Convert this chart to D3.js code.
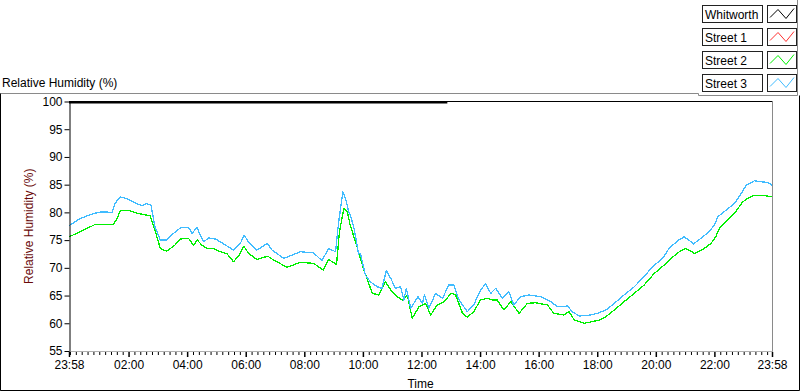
<!DOCTYPE html>
<html><head><meta charset="utf-8">
<script src="https://cdn.jsdelivr.net/npm/d3@7"></script>
<style>
html,body{margin:0;padding:0;background:#fff;}
svg{display:block;font-family:"Liberation Sans",Arial,sans-serif;}
</style></head>
<body>
<svg id="c" width="800" height="392"></svg>
<script>
// ---- data (minutes since the 23:58 start) ----
const seriesNames = ["Whitworth", "Street 1", "Street 2", "Street 3"];
const seriesColors = ["#000000", "#ff3030", "#00f000", "#40bcff"];

const whitworthMin = [0, 775];
const whitworthVal = [100, 100];

const street1Min = [];
const street1Val = [];

const street2Min = [0,23,53,91,99,105,125,142,166,176,187,200,217,228,245,255,263,272,283,296,310,324,337,349,358,368,385,407,419,447,474,501,521,532,548,554,563,570,576,590,604,614,621,635,648,659,672,683,693,703,717,730,741,754,768,783,792,806,816,829,843,857,867,877,891,905,922,939,956,980,993,1014,1024,1035,1055,1072,1088,1100,1117,1137,1158,1178,1199,1219,1236,1250,1262,1270,1281,1298,1315,1325,1332,1349,1363,1380,1390,1404,1421,1440];
const street2Val = [75.6,76.5,77.8,77.8,79.0,80.3,80.3,79.8,79.4,76.8,73.5,73.0,74.1,75.2,75.3,74.1,75.0,74.1,73.5,73.5,72.9,72.5,71.1,72.3,73.9,72.6,71.5,72.1,71.4,70.1,71.0,70.8,69.6,71.5,70.6,76.5,80.7,80.1,77.7,73.8,69.6,67.2,65.4,65.1,67.5,66.0,64.8,64.2,65.1,60.9,63.0,63.6,61.5,63.3,63.9,65.4,65.1,61.8,61.1,62.1,64.2,64.5,64.2,64.2,62.4,63.9,61.8,63.6,63.7,63.3,61.8,61.5,62.1,60.6,60.0,60.3,60.6,61.2,62.4,63.9,65.4,66.9,69.0,70.5,71.9,72.9,73.5,73.2,72.6,73.3,74.4,75.6,77.1,78.6,79.8,81.9,82.5,83.1,83.1,82.8];

const street3Min = [0,23,50,67,88,94,105,118,139,149,159,168,176,187,200,214,228,245,252,262,269,276,286,300,317,337,351,359,368,385,406,416,440,474,501,518,532,546,552,561,567,573,576,583,587,593,597,607,617,631,641,650,659,669,679,686,691,700,715,724,728,737,751,765,778,788,799,816,829,843,853,864,874,888,901,911,925,942,966,987,1000,1021,1031,1045,1069,1086,1100,1117,1137,1158,1178,1195,1216,1229,1247,1260,1270,1279,1294,1311,1322,1329,1346,1363,1377,1387,1404,1421,1431,1440];
const street3Val = [77.6,78.9,79.8,80.1,80.0,81.6,82.8,82.5,81.6,81.2,81.6,81.3,77.4,75.0,75.0,76.2,77.2,77.3,76.2,77.3,75.9,74.7,75.4,75.2,74.3,73.2,74.4,75.9,74.6,73.2,74.4,73.2,71.7,72.9,72.7,71.3,73.5,72.9,78.0,83.7,82.3,80.1,79.5,77.5,75.6,72.5,72.6,68.7,67.5,66.6,66.3,69.5,68.1,66.3,66.6,64.2,66.3,62.7,64.8,63.6,65.1,62.7,65.4,64.5,66.9,66.9,64.2,62.1,63.3,66.0,67.1,65.4,66.3,64.5,65.7,63.3,64.8,65.1,64.8,63.9,63.0,63.1,62.1,61.3,61.5,61.9,62.4,63.6,65.1,66.6,68.4,70.2,71.7,73.5,74.9,75.6,75.0,74.3,75.3,76.5,77.7,79.2,80.4,81.6,83.4,84.9,85.7,85.5,85.4,84.9];

const xTickLabels = ["23:58","02:00","04:00","06:00","08:00","10:00","12:00","14:00","16:00","18:00","20:00","22:00","23:58"];
const yTickValues = [55,60,65,70,75,80,85,90,95,100];

// ---- layout ----
const svg = d3.select("#c");
const L = 69, R = 772, T = 101.5, B = 351;
const start = new Date(2000,0,1,23,58);
const toDate = m => new Date(start.getTime() + m*60000);
const x = d3.scaleTime().domain([toDate(0), toDate(1440)]).range([L, R]);
const y = d3.scaleLinear().domain([55,100]).range([B, T]);

// outer frame
svg.append("path").attr("d","M0.5,391 V93.5 H698.5 V95.5 H797.5 V0")
  .attr("fill","none").attr("stroke","#8a8a8a");
svg.append("path").attr("d","M0.5,93.5 V390.5 H799.5 V95.5")
  .attr("fill","none").attr("stroke","#000");

// title
svg.append("text").attr("x",2).attr("y",87).attr("font-size",12).attr("fill","#000").text("Relative Humidity (%)");

// plot border
svg.append("line").attr("x1",L).attr("x2",R+0.5).attr("y1",101.5).attr("y2",101.5).attr("stroke","#000");
svg.append("line").attr("x1",R+0.5).attr("x2",R+0.5).attr("y1",101.5).attr("y2",B+1).attr("stroke","#8a8a8a");
svg.append("line").attr("x1",L).attr("x2",R+0.5).attr("y1",B+0.5).attr("y2",B+0.5).attr("stroke","#b0b0b0");

// clip
svg.append("clipPath").attr("id","clip").append("rect").attr("x",L).attr("y",T-1.5).attr("width",R-L).attr("height",B-T+2);

const line = d3.line().x(d=>x(toDate(d[0]))).y(d=>y(d[1]));
const series = [
  [whitworthMin, whitworthVal],
  [street1Min, street1Val],
  [street2Min, street2Val],
  [street3Min, street3Val]
];
const g = svg.append("g").attr("clip-path","url(#clip)");
series.forEach((s,i)=>{
  const pts = s[0].map((m,j)=>[m, s[1][j]]);
  if(!pts.length) return;
  g.append("path").attr("d", line(pts)).attr("fill","none")
   .attr("stroke", seriesColors[i]).attr("stroke-width", i===0?2.5:1.3)
   .attr("transform", i===0?"translate(0,0.8)":null)
   .attr("shape-rendering", i===0?null:"crispEdges")
   .attr("stroke-linejoin","round");
});

// y axis
const ya = svg.append("g").attr("transform",`translate(${L+0.5},0)`)
  .call(d3.axisLeft(y).tickValues(yTickValues).tickSize(5).tickPadding(2).tickSizeOuter(0));
ya.select(".domain").attr("stroke","#000");
ya.selectAll("text").attr("font-size",12).attr("font-family","Liberation Sans, Arial, sans-serif").attr("fill","#000");
ya.selectAll("line").attr("stroke","#000");

// x axis
const parseOff = (s,i) => {
  if(i===xTickLabels.length-1) return 1440;
  const [h,mm] = s.split(":").map(Number);
  return ((h*60+mm) - (23*60+58) + 1440) % 1440;
};
const xTickMin = xTickLabels.map(parseOff);
const minor = [];
for(let m=2; m<1440; m+=12){ if(!xTickMin.includes(m)) minor.push(m); }
const xm = svg.append("g").attr("transform",`translate(0,${B+1})`)
  .call(d3.axisBottom(x).tickValues(minor.map(toDate)).tickSize(3).tickFormat(""));
xm.select(".domain").remove();
xm.selectAll("line").attr("stroke","#000");
const xa = svg.append("g").attr("transform",`translate(0,${B+1})`)
  .call(d3.axisBottom(x).tickValues(xTickMin.map(toDate)).tickSize(5).tickPadding(3)
    .tickFormat((d,i)=>xTickLabels[i]));
xa.select(".domain").remove();
xa.selectAll("line").attr("stroke","#000").attr("stroke-width",1.5);
xa.selectAll("text").attr("font-size",12).attr("font-family","Liberation Sans, Arial, sans-serif").attr("fill","#000");

// axis titles
svg.append("text").attr("x",(L+R)/2).attr("y",388).attr("text-anchor","middle").attr("font-size",12).attr("fill","#000").text("Time");
svg.append("text").attr("transform",`translate(33,${(T+B)/2}) rotate(-90)`).attr("text-anchor","middle")
  .attr("font-size",12).attr("fill","#6a0a0a").text("Relative Humidity (%)");

// legend
const lg = svg.append("g");
seriesNames.forEach((n,i)=>{
  const yy = 4.5 + i*23.3;
  const row = lg.append("g").attr("transform",`translate(0,${Math.round(yy)+0.5})`);
  row.append("rect").attr("x",702.5).attr("y",0).attr("width",60).attr("height",17).attr("fill","#fff").attr("stroke","#222");
  row.append("text").attr("x",705).attr("y",13).attr("font-size",12).attr("fill","#000").text(n);
  row.append("rect").attr("x",767.5).attr("y",0).attr("width",29).attr("height",17).attr("fill","#fff").attr("stroke","#222");
  row.append("polyline").attr("points","770,12 778,4 786,13 794,3").attr("fill","none").attr("stroke",seriesColors[i]).attr("stroke-width",1);
});
</script>
</body></html>
